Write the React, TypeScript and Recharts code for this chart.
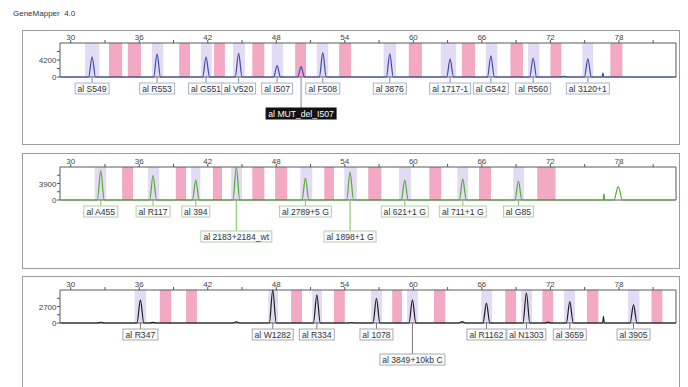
import { ComposedChart, Line, XAxis, YAxis, ReferenceArea, ReferenceDot } from 'recharts';

// size axis (bp)
const X_MIN = 29.06;
const X_MAX = 83.0;
const sizeTicks = [30, 33, 36, 39, 42, 45, 48, 51, 54, 57, 60, 63, 66, 69, 72, 75, 78, 81];
const sizeLabels = [30, 36, 42, 48, 54, 60, 66, 72, 78];

// ---- panel 1 (blue dye)
const pinkBins1 = [[33.35, 34.5], [35.0, 36.15], [39.5, 40.45], [42.55, 43.5], [45.9, 46.95], [49.65, 50.6], [53.5, 54.55], [59.6, 60.75], [64.25, 65.4], [68.5, 69.6], [72.0, 72.95], [77.25, 78.3]];
const lavBins1 = [[31.25, 32.5], [37.1, 38.1], [41.4, 42.35], [44.2, 45.25], [47.6, 48.6], [51.55, 52.55], [57.4, 58.5], [62.4, 63.75], [66.35, 67.35], [70.05, 71.05], [74.8, 75.75]];
const trace1 = [
  [29.1, 0], [31.57, 0], [31.87, 5000], [32.17, 0], [37.26, 0], [37.56, 5700], [37.86, 0],
  [41.55, 0], [41.85, 5000], [42.15, 0], [44.4, 0], [44.7, 5850], [45.0, 0],
  [47.77, 0], [48.07, 2800], [48.37, 0], [49.87, 0], [50.17, 2550], [50.47, 0],
  [51.77, 0], [52.07, 6000], [52.37, 0], [57.64, 0], [57.94, 5700], [58.24, 0],
  [62.92, 0], [63.22, 4400], [63.52, 0], [66.49, 0], [66.79, 5200], [67.09, 0],
  [70.19, 0], [70.49, 4700], [70.79, 0], [72.9, 0], [73.2, 150], [73.5, 0],
  [74.98, 0], [75.28, 4500], [75.58, 0], [76.52, 0], [76.6, 1050], [76.68, 0], [83.0, 0],
];
const alleles1 = ['S549', 'R553', 'G551', 'V520', 'I507', 'MUT_del_I507', 'F508', '3876', '1717-1', 'G542', 'R560', '3120+1'];
const alleleSizes1 = [31.87, 37.56, 41.85, 44.7, 48.07, 50.17, 52.07, 57.94, 63.22, 66.79, 70.49, 75.28];
const alleleRows1 = [1, 1, 1, 1, 1, 2, 1, 1, 1, 1, 1, 1];

// ---- panel 2 (green dye)
const pinkBins2 = [[34.5, 35.45], [39.2, 40.1], [42.45, 43.25], [45.9, 46.95], [47.9, 48.95], [52.2, 53.05], [56.05, 57.2], [61.4, 62.45], [65.75, 66.8], [70.85, 72.45]];
const lavBins2 = [[32.1, 33.1], [36.75, 37.75], [40.55, 41.35], [44.05, 45.0], [50.1, 51.15], [53.95, 55.05], [58.75, 59.8], [63.85, 64.8], [68.75, 69.7]];
const trace2 = [
  [29.1, 0], [32.33, 0], [32.63, 7000], [32.93, 0], [36.91, 0], [37.21, 5850], [37.51, 0],
  [40.65, 0], [40.95, 4700], [41.25, 0], [44.2, 0], [44.5, 7800], [44.8, 0],
  [50.25, 0], [50.55, 5150], [50.85, 0], [54.16, 0], [54.46, 6600], [54.76, 0],
  [58.95, 0], [59.25, 4700], [59.55, 0], [64.03, 0], [64.33, 5000], [64.63, 0],
  [68.9, 0], [69.2, 4550], [69.5, 0], [76.62, 0], [76.69, 1450], [76.76, 0],
  [77.56, 0], [77.94, 3150], [78.32, 0], [83.0, 0],
];
const alleles2 = ['A455', 'R117', '394', '2183+2184_wt', '2789+5 G', '1898+1 G', '621+1 G', '711+1 G', 'G85'];
const alleleSizes2 = [32.63, 37.21, 40.95, 44.5, 50.55, 54.46, 59.25, 64.33, 69.2];
const alleleRows2 = [1, 1, 1, 2, 1, 2, 1, 1, 1];

// ---- panel 3 (black dye)
const pinkBins3 = [[37.8, 38.8], [40.1, 41.05], [49.3, 50.25], [53.05, 54.0], [58.15, 59.0], [61.8, 62.8], [68.05, 69.0], [71.3, 72.25], [75.2, 76.2], [80.85, 81.8]];
const lavBins3 = [[35.6, 36.6], [47.3, 48.15], [51.15, 52.0], [56.3, 57.25], [59.45, 60.4], [65.95, 66.9], [69.45, 70.4], [73.2, 74.15], [78.8, 79.8]];
const trace3 = [
  [29.1, 0], [32.35, 0], [32.65, 120], [32.95, 0], [35.8, 0], [36.1, 3780], [36.4, 0],
  [36.95, 0], [37.2, 100], [37.45, 0], [44.15, 0], [44.5, 180], [44.85, 0],
  [47.39, 0], [47.69, 5400], [47.99, 0], [51.25, 0], [51.55, 4600], [51.85, 0],
  [54.35, 0], [54.6, 80], [54.85, 0], [56.47, 0], [56.77, 4050], [57.07, 0],
  [59.62, 0], [59.92, 3780], [60.22, 0], [63.97, 0], [64.27, 220], [64.57, 0],
  [66.1, 0], [66.4, 3250], [66.7, 0], [69.6, 0], [69.9, 4950], [70.2, 0],
  [71.55, 0], [71.8, 130], [72.05, 0], [73.4, 0], [73.7, 3500], [74.0, 0],
  [76.58, 0], [76.65, 1070], [76.72, 0], [78.98, 0], [79.28, 2950], [79.58, 0], [83.0, 0],
];
const alleles3 = ['R347', 'W1282', 'R334', '1078', '3849+10kb C', 'R1162', 'N1303', '3659', '3905'];
const alleleSizes3 = [36.1, 47.69, 51.55, 56.77, 59.92, 66.4, 69.9, 73.7, 79.28];
const alleleRows3 = [1, 1, 1, 1, 2, 1, 1, 1, 1];

const selectedAllele = 'MUT_del_I507';

const PINK = '#f3a8c4';
const LAV = '#e3dbf3';
const FONT_FAMILY = '"Liberation Sans", Arial, sans-serif';
const TAG_FONT = 8.6;

let measureCtx: CanvasRenderingContext2D | null = null;
function textWidth(s: string) {
  if (!measureCtx) measureCtx = document.createElement('canvas').getContext('2d');
  if (!measureCtx) return s.length * 5;
  measureCtx.font = `${TAG_FONT}px "Liberation Sans", Arial, sans-serif`;
  return measureCtx.measureText(s).width;
}

const panels = [
  {
    frameTop: 30, frameH: 113, top: 43, height: 34, yMax: 8400, yTicks: [0, 2100, 4200, 6300], yLabel: 4200,
    color: '#3a4bb0', lead: '#6f8fb8', border: '#a9b5c9',
    trace: trace1, pink: pinkBins1, lav: lavBins1, names: alleles1, sizes: alleleSizes1, rows: alleleRows1,
  },
  {
    frameTop: 153, frameH: 114, top: 167, height: 33, yMax: 7800, yTicks: [0, 1950, 3900, 5850], yLabel: 3900,
    color: '#55ab35', lead: '#7cbf5a', border: '#b4cfa4',
    trace: trace2, pink: pinkBins2, lav: lavBins2, names: alleles2, sizes: alleleSizes2, rows: alleleRows2,
  },
  {
    frameTop: 276, frameH: 120, top: 290, height: 33, yMax: 5400, yTicks: [0, 1350, 2700, 4050], yLabel: 2700,
    color: '#1e1e1e', lead: '#777777', border: '#aaaaaa',
    trace: trace3, pink: pinkBins3, lav: lavBins3, names: alleles3, sizes: alleleSizes3, rows: alleleRows3,
  },
];

function Panel({ p }: { p: (typeof panels)[number] }) {
  const data = p.trace.map(([s, v]) => ({ s, v }));
  const chartH = 25 + p.height + 52;

  const tag = (name: string, row: number) => (props: any) => {
    const { cx, cy } = props;
    const text = 'al ' + name;
    const w = Math.round(textWidth(text)) + 5;
    const top = cy + (row === 2 ? 31 : 6);
    const sel = name === selectedAllele;
    return (
      <g>
        <line x1={cx} x2={cx} y1={cy} y2={top} stroke={p.lead} strokeWidth={1} />
        <rect x={cx - w / 2} y={top} width={w} height={11} fill={sel ? '#111' : '#fbfcff'} stroke={sel ? '#111' : p.border} strokeWidth={1} />
        <text x={cx} y={top + 8.6} textAnchor="middle" fontSize={TAG_FONT} fontFamily={FONT_FAMILY} fill={sel ? '#fff' : '#333'}>
          {text}
        </text>
      </g>
    );
  };

  return (
    <>
      <div
        style={{
          position: 'absolute', left: 22, top: p.frameTop, width: 656, height: p.frameH,
          border: '1px solid #9c9c9c', borderBottom: p.frameTop + p.frameH > 387 ? 'none' : '1px solid #9c9c9c',
        }}
      />
      <div style={{ position: 'absolute', left: 0, top: p.top - 25 }}>
        <ComposedChart width={688} height={chartH} data={data} margin={{ top: 7, right: 12, bottom: 52, left: 20 }}>
          <XAxis
            type="number" dataKey="s" orientation="top" domain={[X_MIN, X_MAX]} ticks={sizeTicks} interval={0}
            height={18} axisLine={false} tickSize={3} tickLine={{ stroke: '#555' }}
            tick={(t: any) =>
              sizeLabels.includes(t.payload.value) ? (
                <text x={t.x} y={t.y + 1.5} textAnchor="middle" fontSize={8} fontFamily={FONT_FAMILY} fill="#444">
                  {t.payload.value}
                </text>
              ) : (
                <g />
              )
            }
          />
          <YAxis
            type="number" dataKey="v" domain={[0, p.yMax]} ticks={p.yTicks} interval={0} width={40}
            axisLine={false} tickSize={3} tickLine={{ stroke: '#555' }}
            tick={(t: any) =>
              t.payload.value === 0 || t.payload.value === p.yLabel ? (
                <text x={t.x + 1.5} y={t.y + 3} textAnchor="end" fontSize={8} fontFamily={FONT_FAMILY} fill="#444">
                  {t.payload.value}
                </text>
              ) : (
                <g />
              )
            }
          />
          {p.pink.map(([a, b], i) => (
            <ReferenceArea key={'p' + i} x1={a} x2={b} y1={0} y2={p.yMax} fill={PINK} fillOpacity={1} stroke="none" />
          ))}
          {p.lav.map(([a, b], i) => (
            <ReferenceArea key={'l' + i} x1={a} x2={b} y1={0} y2={p.yMax} fill={LAV} fillOpacity={1} stroke="none" />
          ))}
          <ReferenceArea x1={X_MIN} x2={X_MAX} y1={0} y2={p.yMax} fill="none" fillOpacity={0} stroke="#5a5a5a" strokeWidth={1} />
          <Line
            type="monotone" dataKey="v" stroke={p.color} strokeWidth={1.2} dot={false} activeDot={false}
            isAnimationActive={false}
          />
          {p.names.map((n, i) => (
            <ReferenceDot key={'t' + i} x={p.sizes[i]} y={0} r={1} shape={tag(n, p.rows[i])} />
          ))}
        </ComposedChart>
      </div>
    </>
  );
}

export default function App() {
  return (
    <div
      style={{
        position: 'absolute', left: 0, top: 0, width: 688, height: 387, overflow: 'hidden',
        background: '#fff', fontFamily: FONT_FAMILY,
      }}
    >
      <div style={{ position: 'absolute', left: 13, top: 9, fontSize: 8, color: '#333', whiteSpace: 'pre' }}>
        GeneMapper  4.0
      </div>
      {panels.map((p, i) => (
        <Panel key={i} p={p} />
      ))}
    </div>
  );
}
